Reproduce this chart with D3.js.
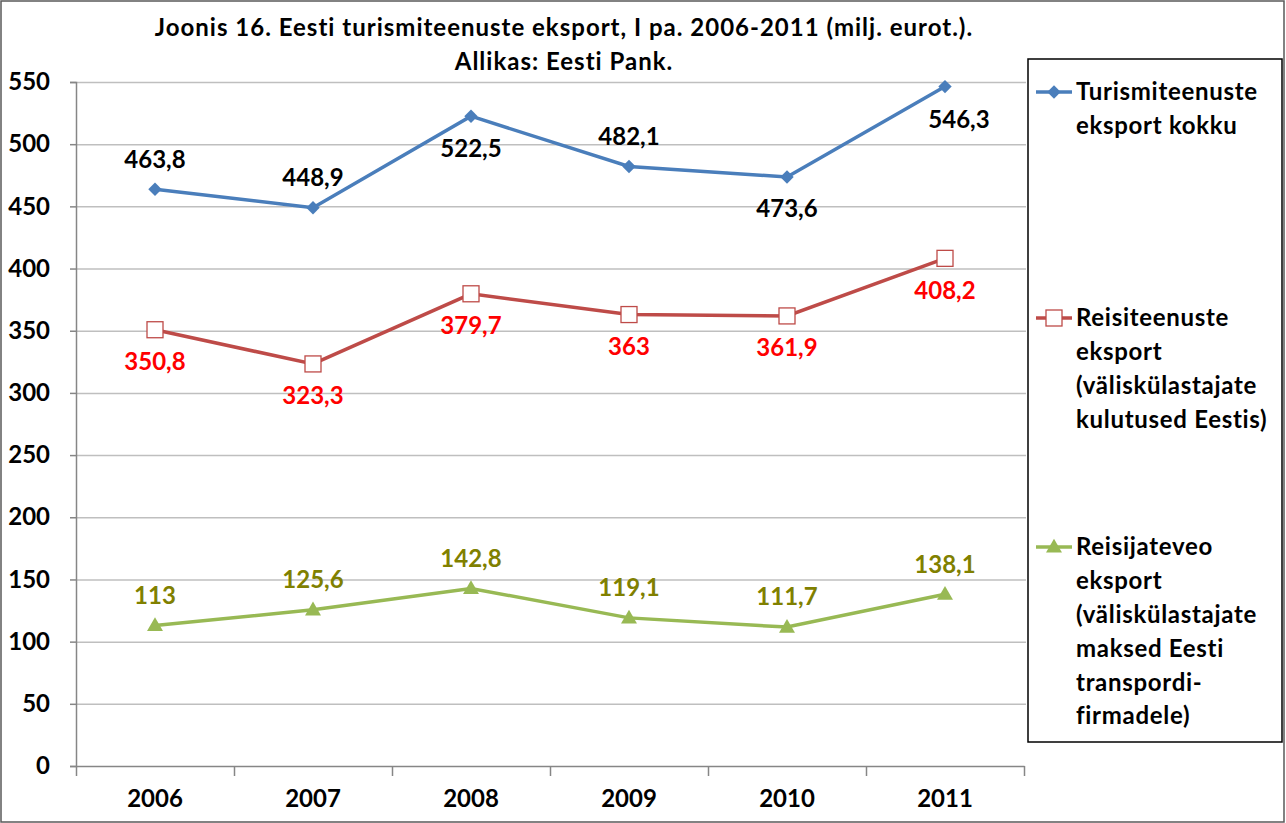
<!DOCTYPE html>
<html>
<head>
<meta charset="utf-8">
<script src="https://cdn.jsdelivr.net/npm/d3@7"></script>
<style>
  body { margin: 0; background: #fff; }
  text { font-family: Lato, "Open Sans", sans-serif; font-weight: bold; }
</style>
</head>
<body>
<svg></svg>
<script>
// data
const years = ["2006", "2007", "2008", "2009", "2010", "2011"];
const totalExport = [463.8, 448.9, 522.5, 482.1, 473.6, 546.3];
const travelExport = [350.8, 323.3, 379.7, 363, 361.9, 408.2];
const transportExport = [113, 125.6, 142.8, 119.1, 111.7, 138.1];
const yTicks = [0, 50, 100, 150, 200, 250, 300, 350, 400, 450, 500, 550];
const titleLines = ["Joonis 16. Eesti turismiteenuste eksport, I pa. 2006-2011 (milj. eurot.).", "Allikas: Eesti Pank."];
const totalLegend = ["Turismiteenuste", "eksport kokku"];
const travelLegend = ["Reisiteenuste", "eksport", "(väliskülastajate", "kulutused Eestis)"];
const transportLegend = ["Reisijateveo", "eksport", "(väliskülastajate", "maksed Eesti", "transpordi-", "firmadele)"];
// where each data label sits relative to its point
const totalLabelSide = ["above", "above", "below", "above", "below", "belowRight"];
const travelLabelSide = ["below", "below", "below", "below", "below", "below"];
const transportLabelSide = ["above", "above", "above", "above", "above", "above"];

let width = 1286, height = 823,
    plotLeft = 76, plotRight = 1024, plotTop = 82, plotBottom = 766,
    fontSize = 24,
    xScale = d3.scaleBand().domain(years).range([plotLeft, plotRight]),
    edgeScale = d3.scaleLinear().domain([0, years.length]).range([plotLeft, plotRight]),
    yScale = d3.scaleLinear().domain([0, 550]).range([plotBottom, plotTop]),
    fmt = v => String(v).replace(".", ","),
    svg = d3.select("svg").attr("width", width).attr("height", height);

// outer chart border
svg.append("rect")
    .attr("x", 1).attr("y", 1)
    .attr("width", width - 3).attr("height", height - 2)
    .attr("fill", "#fff").attr("stroke", "#595959").attr("stroke-width", 1.5);

// gridlines
svg.append("g")
    .attr("transform", `translate(${plotLeft},0)`)
    .call(d3.axisLeft(yScale).tickValues(yTicks.slice(1)).tickSize(-(plotRight - plotLeft + 2)).tickFormat(""))
    .call(g => g.select(".domain").remove())
    .call(g => g.selectAll("line").attr("stroke", "#bfbfbf").attr("stroke-width", 1.5));

// y axis
svg.append("g")
    .attr("transform", `translate(${plotLeft},0)`)
    .call(d3.axisLeft(yScale).tickValues(yTicks).tickSize(6).tickPadding(20))
    .call(g => g.select(".domain").attr("stroke", "#868686").attr("stroke-width", 1.5))
    .call(g => g.selectAll("line").attr("stroke", "#868686").attr("stroke-width", 1.5))
    .call(g => g.selectAll("text").attr("fill", "#000").attr("font-size", fontSize)
        .attr("font-family", null).attr("x", -26));

// x axis: ticks between categories
svg.append("g")
    .attr("transform", `translate(0,${plotBottom})`)
    .call(d3.axisBottom(edgeScale).tickValues(d3.range(years.length + 1)).tickSize(10).tickFormat("").tickSizeOuter(0))
    .call(g => g.select(".domain").attr("stroke", "#868686").attr("stroke-width", 1.5))
    .call(g => g.selectAll("line").attr("stroke", "#868686").attr("stroke-width", 1.5));

svg.append("g")
    .attr("transform", `translate(0,${plotBottom})`)
    .call(d3.axisBottom(xScale).tickSize(0).tickPadding(24))
    .call(g => g.select(".domain").remove())
    .call(g => g.selectAll("text").attr("fill", "#000").attr("font-size", fontSize).attr("font-family", null));

// title
svg.append("g").selectAll("text")
    .data(titleLines)
    .join("text")
    .attr("x", 564)
    .attr("y", (d, i) => 28 + i * 34)
    .attr("dy", "0.35em")
    .attr("text-anchor", "middle")
    .attr("font-size", fontSize)
    .attr("letter-spacing", 1)
    .text(d => d);

const series = [
  { values: totalExport, color: "#4a7ebb", labelColor: "#000", sides: totalLabelSide, marker: "diamond", legend: totalLegend, legendY: 92 },
  { values: travelExport, color: "#be4b48", labelColor: "#ff0000", sides: travelLabelSide, marker: "square", legend: travelLegend, legendY: 318 },
  { values: transportExport, color: "#98b954", labelColor: "#808000", sides: transportLabelSide, marker: "triangle", legend: transportLegend, legendY: 547 }
];

const line = d3.line()
    .x((d, i) => xScale(years[i]) + xScale.bandwidth() / 2)
    .y(d => yScale(d));

function drawMarker(g, s, x, y) {
  if (s.marker === "diamond") {
    g.append("path").attr("d", d3.symbol(d3.symbolSquare, 90)()).attr("transform", `translate(${x},${y}) rotate(45)`)
        .attr("fill", s.color);
  } else if (s.marker === "square") {
    g.append("rect").attr("x", x - 8).attr("y", y - 8).attr("width", 16).attr("height", 16)
        .attr("fill", "#fff").attr("stroke", s.color).attr("stroke-width", 1.3);
  } else {
    g.append("path").attr("d", d3.symbol(d3.symbolTriangle, 110)()).attr("transform", `translate(${x},${y + 1})`)
        .attr("fill", s.color);
  }
}

const labelOffset = { above: [0, -30], below: [0, 32], belowRight: [14, 33] };

series.forEach(s => {
  svg.append("path")
      .datum(s.values)
      .attr("d", line)
      .attr("fill", "none")
      .attr("stroke", s.color)
      .attr("stroke-width", 3.5);

  const markers = svg.append("g");
  s.values.forEach((v, i) => drawMarker(markers, s, xScale(years[i]) + xScale.bandwidth() / 2, yScale(v)));

  svg.append("g").selectAll("text")
      .data(s.values)
      .join("text")
      .attr("x", (d, i) => xScale(years[i]) + xScale.bandwidth() / 2 + labelOffset[s.sides[i]][0])
      .attr("y", (d, i) => yScale(d) + labelOffset[s.sides[i]][1])
      .attr("dy", "0.35em")
      .attr("text-anchor", "middle")
      .attr("font-size", fontSize)
      .attr("fill", s.labelColor)
      .text(fmt);
});

// legend
svg.append("rect")
    .attr("x", 1028).attr("y", 59)
    .attr("width", 254).attr("height", 683)
    .attr("fill", "#fff").attr("stroke", "#000").attr("stroke-width", 1.5);

series.forEach(s => {
  const g = svg.append("g");
  g.append("line")
      .attr("x1", 1036).attr("x2", 1072)
      .attr("y1", s.legendY).attr("y2", s.legendY)
      .attr("stroke", s.color).attr("stroke-width", 3.5);
  drawMarker(g, s, 1054, s.legendY);
  g.selectAll("text")
      .data(s.legend)
      .join("text")
      .attr("x", 1076)
      .attr("y", (d, i) => s.legendY + i * 33.8)
      .attr("dy", "0.35em")
      .attr("font-size", fontSize)
      .attr("letter-spacing", 0.7)
      .text(d => d);
});
</script>
</body>
</html>
